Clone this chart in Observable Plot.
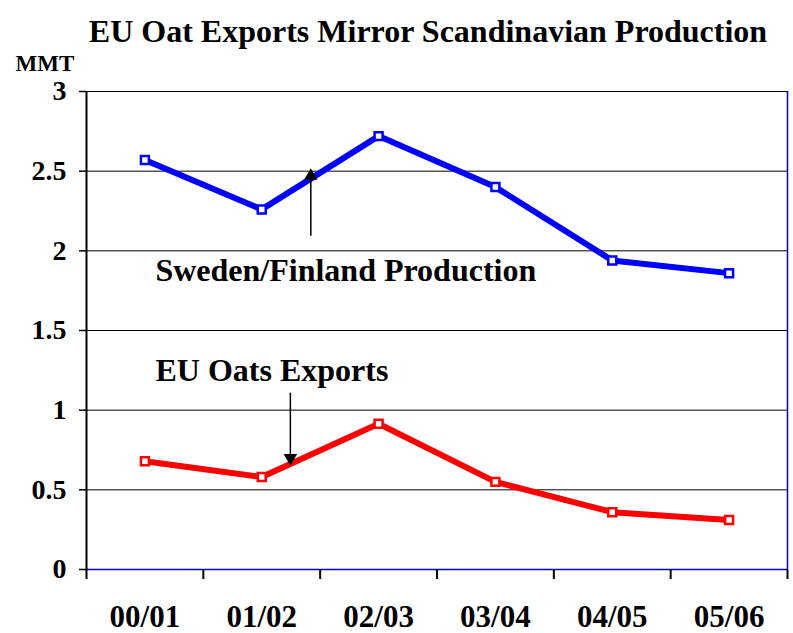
<!DOCTYPE html>
<html>
<head>
<meta charset="utf-8">
<script src="https://cdn.jsdelivr.net/npm/d3@7"></script>
<script src="https://cdn.jsdelivr.net/npm/@observablehq/plot@0.6"></script>
<style>
  html, body { margin: 0; padding: 0; background: #fff; }
  svg { display: block; }
</style>
</head>
<body>
<div id="chart"></div>
<script>
const categories = ["00/01", "01/02", "02/03", "03/04", "04/05", "05/06"];
const swedenFinland = [2.57, 2.26, 2.72, 2.40, 1.94, 1.86];
const euExports = [0.68, 0.58, 0.915, 0.55, 0.36, 0.31];
const yTicks = [0, 0.5, 1, 1.5, 2, 2.5, 3];
const xBoundaries = [0, 1, 2, 3, 4, 5, 6];
const title = "EU Oat Exports Mirror Scandinavian Production";
const unitLabel = "MMT";
const annotations = [
  {label: "Sweden/Finland Production", x: 0.59, y: 1.875, ax: 1.92, ay1: 2.095, ay2: 2.47, dir: 0},
  {label: "EU Oats Exports", x: 0.59, y: 1.25, ax: 1.745, ay1: 1.11, ay2: 0.70, dir: 180}
];

const series = [
  ...categories.map((c, i) => ({cat: c, i: i + 0.5, v: swedenFinland[i], s: "Sweden/Finland"})),
  ...categories.map((c, i) => ({cat: c, i: i + 0.5, v: euExports[i], s: "EU"}))
];
const colors = {"Sweden/Finland": "#0000ff", "EU": "#ff0000"};

const chart = Plot.plot({
  width: 793,
  height: 633,
  marginLeft: 86,
  marginRight: 6,
  marginTop: 91,
  marginBottom: 64,
  style: {fontFamily: "'Liberation Serif', 'Times New Roman', serif", fontWeight: "bold", color: "#000", background: "#fff"},
  x: {type: "linear", domain: [0, 6], axis: null},
  y: {domain: [0, 3], axis: null},
  marks: [
    Plot.ruleY(yTicks.filter(d => d > 0), {stroke: "#000", strokeWidth: 1}),
    Plot.ruleY([0], {stroke: "#0000cc", strokeWidth: 1.5}),
    Plot.ruleX([6], {stroke: "#0000cc", strokeWidth: 1.5}),
    Plot.ruleX([0], {stroke: "#000", strokeWidth: 2}),
    Plot.axisY({ticks: yTicks, tickFormat: d => String(d), tickSize: 7, tickPadding: 13, fontSize: 28, fontWeight: "bold", stroke: "#000", strokeWidth: 1.5}),
    Plot.axisX({ticks: xBoundaries, tickFormat: () => "", tickSize: 10, strokeWidth: 2}),
    Plot.axisX({ticks: categories.map((c, i) => i + 0.5), tickFormat: d => categories[Math.floor(d)], tickSize: 0, tickPadding: 35, fontSize: 31, fontWeight: "bold"}),
    Plot.line(series, {x: "i", y: "v", z: "s", stroke: d => colors[d.s], strokeWidth: 6, strokeLinejoin: "miter"}),
    Plot.dot(series, {x: "i", y: "v", symbol: "square", r: 4.5, fill: "#fff", stroke: d => colors[d.s], strokeWidth: 2.5}),
    Plot.link(annotations, {x1: "ax", x2: "ax", y1: "ay1", y2: "ay2", stroke: "#000", strokeWidth: 1.5}),
    Plot.dot(annotations, {x: "ax", y: "ay2", symbol: "triangle", r: 5, fill: "#000", stroke: "none", rotate: "dir"}),
    Plot.text(annotations, {x: "x", y: "y", text: "label", textAnchor: "start", fontSize: 32, fontWeight: "bold", fill: "#000"}),
    Plot.text([title], {frameAnchor: "top", dx: -9, dy: -72, fontSize: 32, fontWeight: "bold", fill: "#000"}),
    Plot.text([unitLabel], {frameAnchor: "top-left", textAnchor: "start", dx: -71, dy: -37, fontSize: 23, fontWeight: "bold", fill: "#000"})
  ]
});
document.getElementById("chart").appendChild(chart);
</script>
</body>
</html>
